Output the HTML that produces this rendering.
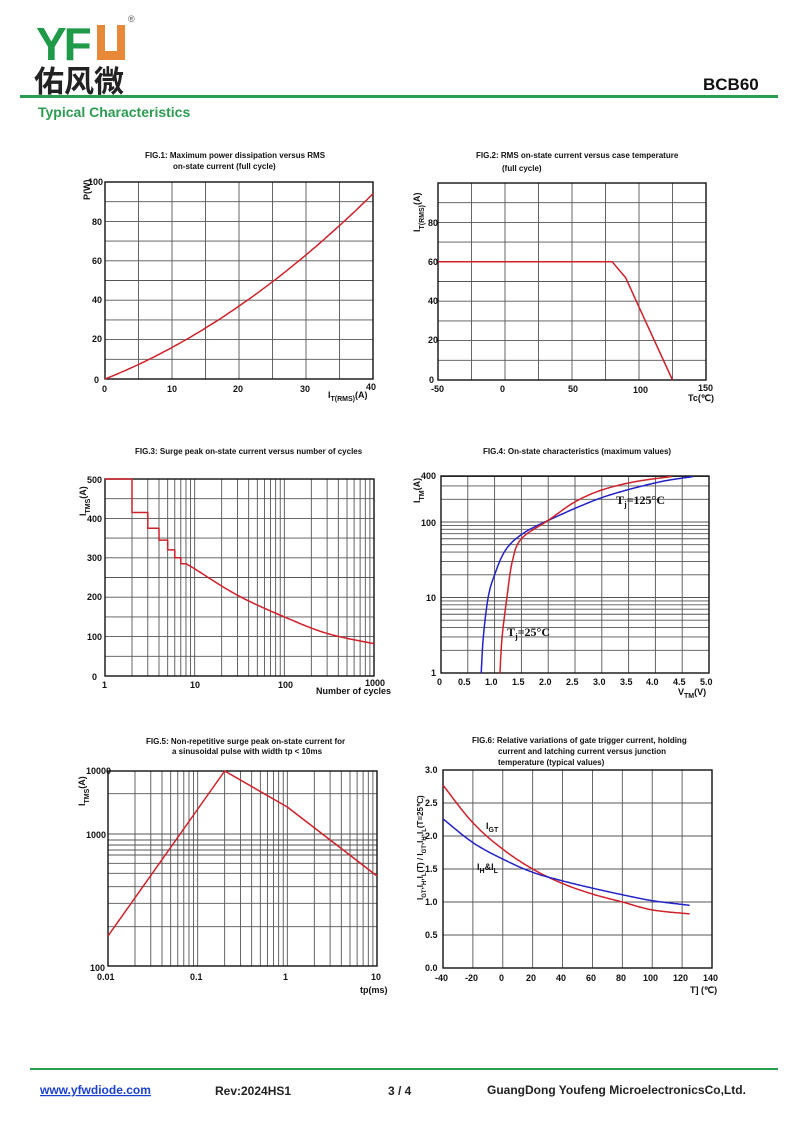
<!DOCTYPE html>
<html><head><meta charset="utf-8"><style>
body{margin:0;background:#fff;width:800px;height:1131px;overflow:hidden;font-family:"Liberation Sans","Noto Sans CJK SC",sans-serif}
svg{position:absolute;left:0;top:0}
.t{font:bold 8px "Liberation Sans",sans-serif;fill:#111}
.k{font:bold 9px "Liberation Sans",sans-serif;fill:#111}
</style></head><body>
<svg id="s" width="800" height="1131" viewBox="0 0 800 1131" xmlns="http://www.w3.org/2000/svg">
<g id="g"></g>
<!-- header -->
<text x="36" y="60" style="font:bold 46px 'Liberation Sans',sans-serif;fill:#1f9a48;letter-spacing:-3px">YF</text>
<rect x="97" y="25" width="28" height="35" fill="#e8893a"/>
<rect x="105" y="25" width="12" height="26" fill="#fff"/>
<text x="128" y="22" style="font:9px 'Liberation Sans',sans-serif;fill:#555">®</text>
<text x="34" y="92" style="font:bold 30px 'Noto Sans CJK SC',sans-serif;fill:#222">佑风微</text>
<text x="703" y="90" style="font:bold 17px 'Liberation Sans',sans-serif;fill:#111">BCB60</text>
<rect x="20" y="95" width="758" height="3" fill="#2c9c50"/>
<text x="38" y="117" style="font:bold 14px 'Liberation Sans',sans-serif;fill:#2c9c50">Typical Characteristics</text>
<!-- footer -->
<rect x="30" y="1068" width="748" height="2" fill="#2c9c50"/>
<text x="40" y="1094" style="font:bold 12px 'Liberation Sans',sans-serif;fill:#1a3fcf;text-decoration:underline">www.yfwdiode.com</text>
<text x="215" y="1095" style="font:bold 12px 'Liberation Sans',sans-serif;fill:#222">Rev:2024HS1</text>
<text x="388" y="1095" style="font:bold 12px 'Liberation Sans',sans-serif;fill:#222">3 / 4</text>
<text x="487" y="1094" style="font:bold 12px 'Liberation Sans',sans-serif;fill:#222">GuangDong Youfeng MicroelectronicsCo,Ltd.</text>

<!-- FIG1 -->
<text class="t" x="145" y="158">FIG.1: Maximum power dissipation versus RMS</text>
<text class="t" x="173" y="169">on-state current (full cycle)</text>
<text class="k" x="88" y="185">100</text><text class="k" x="92" y="225">80</text><text class="k" x="92" y="264">60</text><text class="k" x="92" y="303">40</text><text class="k" x="92" y="342">20</text><text class="k" x="94" y="383">0</text>
<text class="k" x="102" y="392">0</text><text class="k" x="167" y="392">10</text><text class="k" x="233" y="392">20</text><text class="k" x="300" y="392">30</text><text class="k" x="366" y="390">40</text>
<text class="k" x="328" y="398">I<tspan font-size="7" dy="3">T(RMS)</tspan><tspan dy="-3">(A)</tspan></text>
<text class="k" transform="translate(90,200) rotate(-90)">P(W)</text>
<!-- FIG2 -->
<text class="t" x="476" y="158">FIG.2: RMS on-state current versus case temperature</text>
<text class="t" x="502" y="171">(full cycle)</text>
<text class="k" x="428" y="226">80</text><text class="k" x="428" y="265">60</text><text class="k" x="428" y="304">40</text><text class="k" x="428" y="343">20</text><text class="k" x="429" y="383">0</text>
<text class="k" x="431" y="392">-50</text><text class="k" x="500" y="392">0</text><text class="k" x="568" y="392">50</text><text class="k" x="633" y="393">100</text><text class="k" x="698" y="391">150</text>
<text class="k" x="688" y="401">Tc(℃)</text>
<text class="k" transform="translate(420,232) rotate(-90)">I<tspan font-size="7" dy="4">T(RMS)</tspan><tspan dy="-4">(A)</tspan></text>
<!-- FIG3 -->
<text class="t" x="135" y="454">FIG.3: Surge peak on-state current versus number of cycles</text>
<text class="k" x="87" y="483">500</text><text class="k" x="87" y="522">400</text><text class="k" x="87" y="561">300</text><text class="k" x="87" y="600">200</text><text class="k" x="87" y="640">100</text><text class="k" x="92" y="680">0</text>
<text class="k" x="102" y="688">1</text><text class="k" x="190" y="688">10</text><text class="k" x="278" y="688">100</text><text class="k" x="365" y="686">1000</text>
<text class="k" x="316" y="694">Number of cycles</text>
<text class="k" transform="translate(86,516) rotate(-90)">I<tspan font-size="7" dy="4">TMS</tspan><tspan dy="-4">(A)</tspan></text>
<!-- FIG4 -->
<text class="t" x="483" y="454">FIG.4: On-state characteristics (maximum values)</text>
<text class="k" x="421" y="479">400</text><text class="k" x="421" y="526">100</text><text class="k" x="426" y="601">10</text><text class="k" x="431" y="676">1</text>
<text class="k" x="437" y="685">0</text><text class="k" x="458" y="685">0.5</text><text class="k" x="485" y="685">1.0</text><text class="k" x="512" y="685">1.5</text><text class="k" x="539" y="685">2.0</text><text class="k" x="566" y="685">2.5</text><text class="k" x="593" y="685">3.0</text><text class="k" x="620" y="685">3.5</text><text class="k" x="646" y="685">4.0</text><text class="k" x="673" y="685">4.5</text><text class="k" x="700" y="685">5.0</text>
<text class="k" x="678" y="695">V<tspan font-size="7" dy="3">TM</tspan><tspan dy="-3">(V)</tspan></text>
<text class="k" transform="translate(420,503) rotate(-90)">I<tspan font-size="7" dy="4">TM</tspan><tspan dy="-4">(A)</tspan></text>
<text x="616" y="504" style="font:bold 12px 'Liberation Serif',serif;fill:#111">T<tspan font-size="8" dy="3">j</tspan><tspan dy="-3">=125°C</tspan></text>
<text x="507" y="636" style="font:bold 12px 'Liberation Serif',serif;fill:#111">T<tspan font-size="8" dy="3">j</tspan><tspan dy="-3">=25°C</tspan></text>
<!-- FIG5 -->
<text class="t" x="146" y="744">FIG.5: Non-repetitive surge peak on-state current for</text>
<text class="t" x="172" y="754">a sinusoidal pulse with width tp &lt; 10ms</text>
<text class="k" x="86" y="774">10000</text><text class="k" x="86" y="838">1000</text><text class="k" x="90" y="971">100</text>
<text class="k" x="97" y="980">0.01</text><text class="k" x="190" y="980">0.1</text><text class="k" x="283" y="980">1</text><text class="k" x="371" y="980">10</text>
<text class="k" x="360" y="993">tp(ms)</text>
<text class="k" transform="translate(85,806) rotate(-90)">I<tspan font-size="7" dy="4">TMS</tspan><tspan dy="-4">(A)</tspan></text>
<!-- FIG6 -->
<text class="t" x="472" y="743">FIG.6: Relative variations of gate trigger current, holding</text>
<text class="t" x="498" y="754">current and latching current versus junction</text>
<text class="t" x="498" y="765">temperature (typical values)</text>
<text class="k" x="425" y="773">3.0</text><text class="k" x="425" y="806">2.5</text><text class="k" x="425" y="839">2.0</text><text class="k" x="425" y="872">1.5</text><text class="k" x="425" y="905">1.0</text><text class="k" x="425" y="938">0.5</text><text class="k" x="425" y="971">0.0</text>
<text class="k" x="435" y="981">-40</text><text class="k" x="465" y="981">-20</text><text class="k" x="499" y="981">0</text><text class="k" x="526" y="981">20</text><text class="k" x="556" y="981">40</text><text class="k" x="586" y="981">60</text><text class="k" x="616" y="981">80</text><text class="k" x="643" y="981">100</text><text class="k" x="673" y="981">120</text><text class="k" x="703" y="981">140</text>
<text class="k" x="690" y="993">T] (℃)</text>
<text class="k" transform="translate(423,900) rotate(-90)" style="font-size:8px">I<tspan font-size="6" dy="3">GT</tspan><tspan dy="-3">,I</tspan><tspan font-size="6" dy="3">H</tspan><tspan dy="-3">,I</tspan><tspan font-size="6" dy="3">L</tspan><tspan dy="-3">(T) / I</tspan><tspan font-size="6" dy="3">GT</tspan><tspan dy="-3">,I</tspan><tspan font-size="6" dy="3">H</tspan><tspan dy="-3">,I</tspan><tspan font-size="6" dy="3">L</tspan><tspan dy="-3">(T=25℃)</tspan></text>
<text class="k" x="486" y="829">I<tspan font-size="7" dy="3">GT</tspan></text>
<text class="k" x="477" y="870">I<tspan font-size="7" dy="3">H</tspan><tspan dy="-3">&amp;I</tspan><tspan font-size="7" dy="3">L</tspan></text>
</svg>
<script>
var g=document.getElementById('g'),NS='http://www.w3.org/2000/svg';
function el(n,a){var e=document.createElementNS(NS,n);for(var k in a)e.setAttribute(k,a[k]);g.appendChild(e);return e;}
function line(x1,y1,x2,y2,c,w){el('line',{x1:x1,y1:y1,x2:x2,y2:y2,stroke:c||'#555',"stroke-width":w||0.9});}
function frame(L,T,R,B,vx,hy){vx.forEach(function(x){line(x,T,x,B)});hy.forEach(function(y){line(L,y,R,y)});el('rect',{x:L,y:T,width:R-L,height:B-T,fill:'none',stroke:'#111',"stroke-width":1.4});}
function path(pts,c){el('path',{d:'M'+pts.map(function(p){return p[0].toFixed(1)+','+p[1].toFixed(1)}).join('L'),fill:'none',stroke:c,"stroke-width":1.5,"stroke-linejoin":"round"});}
function rng(a,b,n){var r=[];for(var i=0;i<=n;i++)r.push(a+(b-a)*i/n);return r;}
function logs(a,b,dec){var r=[],d=(b-a)/dec;for(var k=0;k<dec;k++)for(var m=1;m<=9;m++)r.push(a+d*(k+Math.log10(m)));r.push(b);return r;}
function spline(pts,fx,fy){var o=[];for(var i=0;i<pts.length-1;i++){var p0=pts[Math.max(i-1,0)],p1=pts[i],p2=pts[i+1],p3=pts[Math.min(i+2,pts.length-1)];for(var t=0;t<1;t+=0.05){var t2=t*t,t3=t2*t;var f=function(a,b,c,d){return 0.5*(2*b+(-a+c)*t+(2*a-5*b+4*c-d)*t2+(-a+3*b-3*c+d)*t3)};o.push([fx(f(p0[0],p1[0],p2[0],p3[0])),fy(f(p0[1],p1[1],p2[1],p3[1]))]);}}var l=pts[pts.length-1];o.push([fx(l[0]),fy(l[1])]);return o;}
var R='#d0202a',Bl='#2222c8';
// FIG1
(function(){var L=105,T=182,Rr=373,B=379;frame(L,T,Rr,B,rng(L,Rr,8),rng(T,B,10));var p=[];for(var i=0;i<=40;i+=0.5)p.push([L+(Rr-L)*i/40,B-(B-T)*(1.35*i+0.025*i*i)/100]);path(p,R);})();
// FIG2
(function(){var L=438,T=183,Rr=706,B=380;frame(L,T,Rr,B,rng(L,Rr,8),rng(T,B,10));var fx=function(v){return L+(Rr-L)*(v+50)/200},fy=function(v){return B-(B-T)*v/100};path([[fx(-50),fy(60)],[fx(80),fy(60)],[fx(90),fy(52)],[fx(100),fy(37)],[fx(125),fy(0)]],R);})();
// FIG3
(function(){var L=105,T=479,Rr=374,B=676;frame(L,T,Rr,B,logs(L,Rr,3),rng(T,B,10));var fx=function(n){return L+(Rr-L)*Math.log10(n)/3},fy=function(v){return B-(B-T)*v/500};var st=[[1,500],[2,415],[3,375],[4,345],[5,320],[6,300],[7,285]],p=[];st.forEach(function(s,i){p.push([fx(s[0]),fy(s[1])]);p.push([fx(s[0]+1),fy(s[1])]);});p.pop();var c=spline([[Math.log10(8),285],[1,272],[Math.log10(30),205],[2,150],[Math.log10(300),108],[3,82]],function(x){return L+(Rr-L)*x/3},fy);path(p.concat(c),R);})();
// FIG4
(function(){var L=441,T=476,Rr=709,B=673,dec=75.5;var hy=[];for(var k=0;k<3;k++)for(var m=1;m<=9;m++){var y=B-dec*(k+Math.log10(m));if(y>=T)hy.push(y);}
frame(L,T,Rr,B,rng(L,Rr,10),hy);var fx=function(v){return L+(Rr-L)*v/5},fy=function(v){return B-dec*v};var lg=function(a){return a.map(function(p){return[p[0],Math.log10(p[1])]})};
path(spline(lg([[0.75,1],[0.79,3],[0.88,10],[1.0,20],[1.2,42],[1.5,68],[2.0,105],[3.0,210],[4.0,330],[4.7,400]]),fx,fy),Bl);
path(spline(lg([[1.1,1],[1.14,3],[1.23,10],[1.33,30],[1.5,60],[2.0,105],[2.5,185],[3.0,265],[3.6,340],[4.3,400]]),fx,fy),R);})();
// FIG5
(function(){var L=108,T=771,Rr=377,B=966;var hy=[312,330,345,360,375,400,430,470,520,590,191].map(function(v){return 730+v/3});frame(L,T,Rr,B,logs(L,Rr,3),hy);var fx=function(t){return L+(Rr-L)*(Math.log10(t)+2)/3};path([[L,936],[fx(0.2),771],[fx(1),807],[Rr,876]],R);})();
// FIG6
(function(){var L=443,T=770,Rr=712,B=968;frame(L,T,Rr,B,rng(L,Rr,9),rng(T,B,6));var fx=function(v){return L+(Rr-L)*(v+40)/180},fy=function(v){return B-(B-T)*v/3};
path(spline([[-40,2.77],[-20,2.2],[0,1.8],[20,1.5],[40,1.28],[60,1.12],[80,1.0],[100,0.88],[125,0.82]],fx,fy),R);
path(spline([[-40,2.26],[-20,1.9],[0,1.65],[20,1.45],[40,1.32],[60,1.21],[80,1.11],[100,1.02],[125,0.95]],fx,fy),Bl);})();
</script>
</body></html>
